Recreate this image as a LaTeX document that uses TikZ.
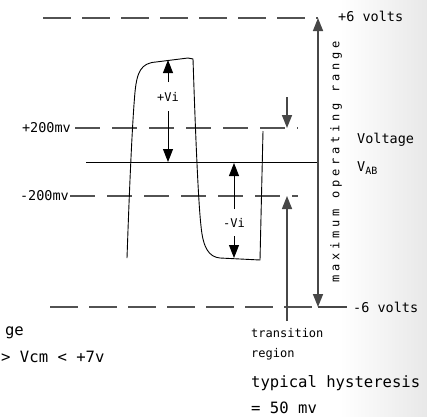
\documentclass[tikz,border=0pt]{standalone}
\usepackage{fontspec}
\usetikzlibrary{arrows.meta}
\newfontfamily\cad{DejaVu Sans Mono}
\newfontfamily\cadwide[LetterSpace=31]{DejaVu Sans Mono}
\begin{document}
\begin{tikzpicture}[x=1pt,y=-1pt,
  dashline/.style={draw=black!68, line width=1.8pt, dash pattern=on 28pt off 11pt},
  shortdash/.style={draw=black!68, line width=1.8pt, dash pattern=on 25pt off 12pt},
  thinline/.style={draw=black, line width=0.9pt},
  greyline/.style={draw=black!72, line width=1.5pt},
  tipend/.style={-{Triangle[width=10pt,length=13pt]}},
  tipboth/.style={{Triangle[width=10pt,length=13pt]}-{Triangle[width=10pt,length=13pt]}},
  lbl/.style={inner sep=0pt, font=\cad\fontsize{13.5}{15}\selectfont},
  big/.style={inner sep=0pt, font=\cad\fontsize{15.6}{18}\selectfont},
  small/.style={inner sep=0pt, font=\cad\fontsize{12}{14}\selectfont}]
\useasboundingbox (0,0) rectangle (427,416);
\fill[white] (0,0) rectangle (427,416);
\shade[left color=white, right color=black!9] (340,0) rectangle (427,416);

% reference coordinates
\coordinate (topL) at (43,18);   \coordinate (topR) at (318,18);
\coordinate (botL) at (50,307);  \coordinate (botR) at (318,307);  \coordinate (botE) at (347,307);
\coordinate (pL) at (75,128);    \coordinate (pR) at (298,128);
\coordinate (mL) at (70,196);    \coordinate (mR) at (298,196);
\coordinate (cL) at (86,162);    \coordinate (cR) at (318,162);

% dashed levels
\draw[dashline] (topL) -- (topR);
\draw[dashline] (botL) -- (botR);
\draw[greyline] (botR) -- (botE);
\draw[shortdash] (pL) -- (pR);
\draw[shortdash] (mL) -- (mR);
\draw[thinline] (cL) -- (cR);

% labels of levels
\node[lbl, anchor=west] (p6) at (338,16) {+6 volts};
\node[lbl, anchor=west] (m6) at (353,307) {-6 volts};
\node[lbl, anchor=east] (p200) at (71,128) {+200mv};
\node[lbl, anchor=east] (m200) at (69,196) {-200mv};

% waveform
\draw[thinline, line join=round]
  (127,258) .. controls (129,200) and (132,125) .. (135,92)
  .. controls (137,72) and (141,63) .. (156,62)
  -- (188,58) -- (193,59)
  .. controls (195,120) and (198,200) .. (201,226)
  .. controls (203,248) and (209,257) .. (220,258)
  -- (260,260) -- (263,131);

% +Vi arrow
\coordinate (vpTop) at (168,60); \coordinate (vpA) at (168,82);
\coordinate (vpB) at (168,111);  \coordinate (vpBot) at (168,162);
\node[small] (vplus) at (168,97) {+Vi};
\draw[thinline, tipend] (vpA) -- (vpTop);
\draw[thinline, tipend] (vpB) -- (vpBot);

% -Vi arrow
\coordinate (vmTop) at (234,163); \coordinate (vmA) at (234,209);
\coordinate (vmB) at (234,236);   \coordinate (vmBot) at (234,258);
\node[small] (vminus) at (234,223) {-Vi};
\draw[thinline, tipend] (vmA) -- (vmTop);
\draw[thinline, tipend] (vmB) -- (vmBot);

% transition region arrows
\coordinate (trTop) at (287,97); \coordinate (trP) at (287,128);
\coordinate (trBot) at (287,321); \coordinate (trM) at (287,196);
\draw[greyline, tipend] (trTop) -- (trP);
\draw[greyline, tipend] (trBot) -- (trM);

% maximum operating range
\draw[greyline, tipboth] (botR) -- (topR);
\node[inner sep=0pt, rotate=90, font=\cadwide\fontsize{12}{14}\selectfont] (range) at (336,162) {maximum operating range};

% right-hand texts
\node[lbl, anchor=west] (volt) at (357,140) {Voltage};
\node[lbl, anchor=west] (vab) at (357,168) {V\raisebox{-0.35ex}{\fontsize{10}{12}\selectfont AB}};

\node[small, anchor=west] (trans1) at (251,333) {transition};
\node[small, anchor=west] (trans2) at (251,354) {region};
\node[big, anchor=west] (hyst1) at (251,383) {typical hysteresis};
\node[big, anchor=west] (hyst2) at (251,408) {= 50 mv};

% left texts (cut off at the edge)
\node[big, anchor=east] (cm1) at (24,333) {ge};
\node[big, anchor=west] (cm2) at (1,357) {> Vcm < +7v};
\end{tikzpicture}
\end{document}
